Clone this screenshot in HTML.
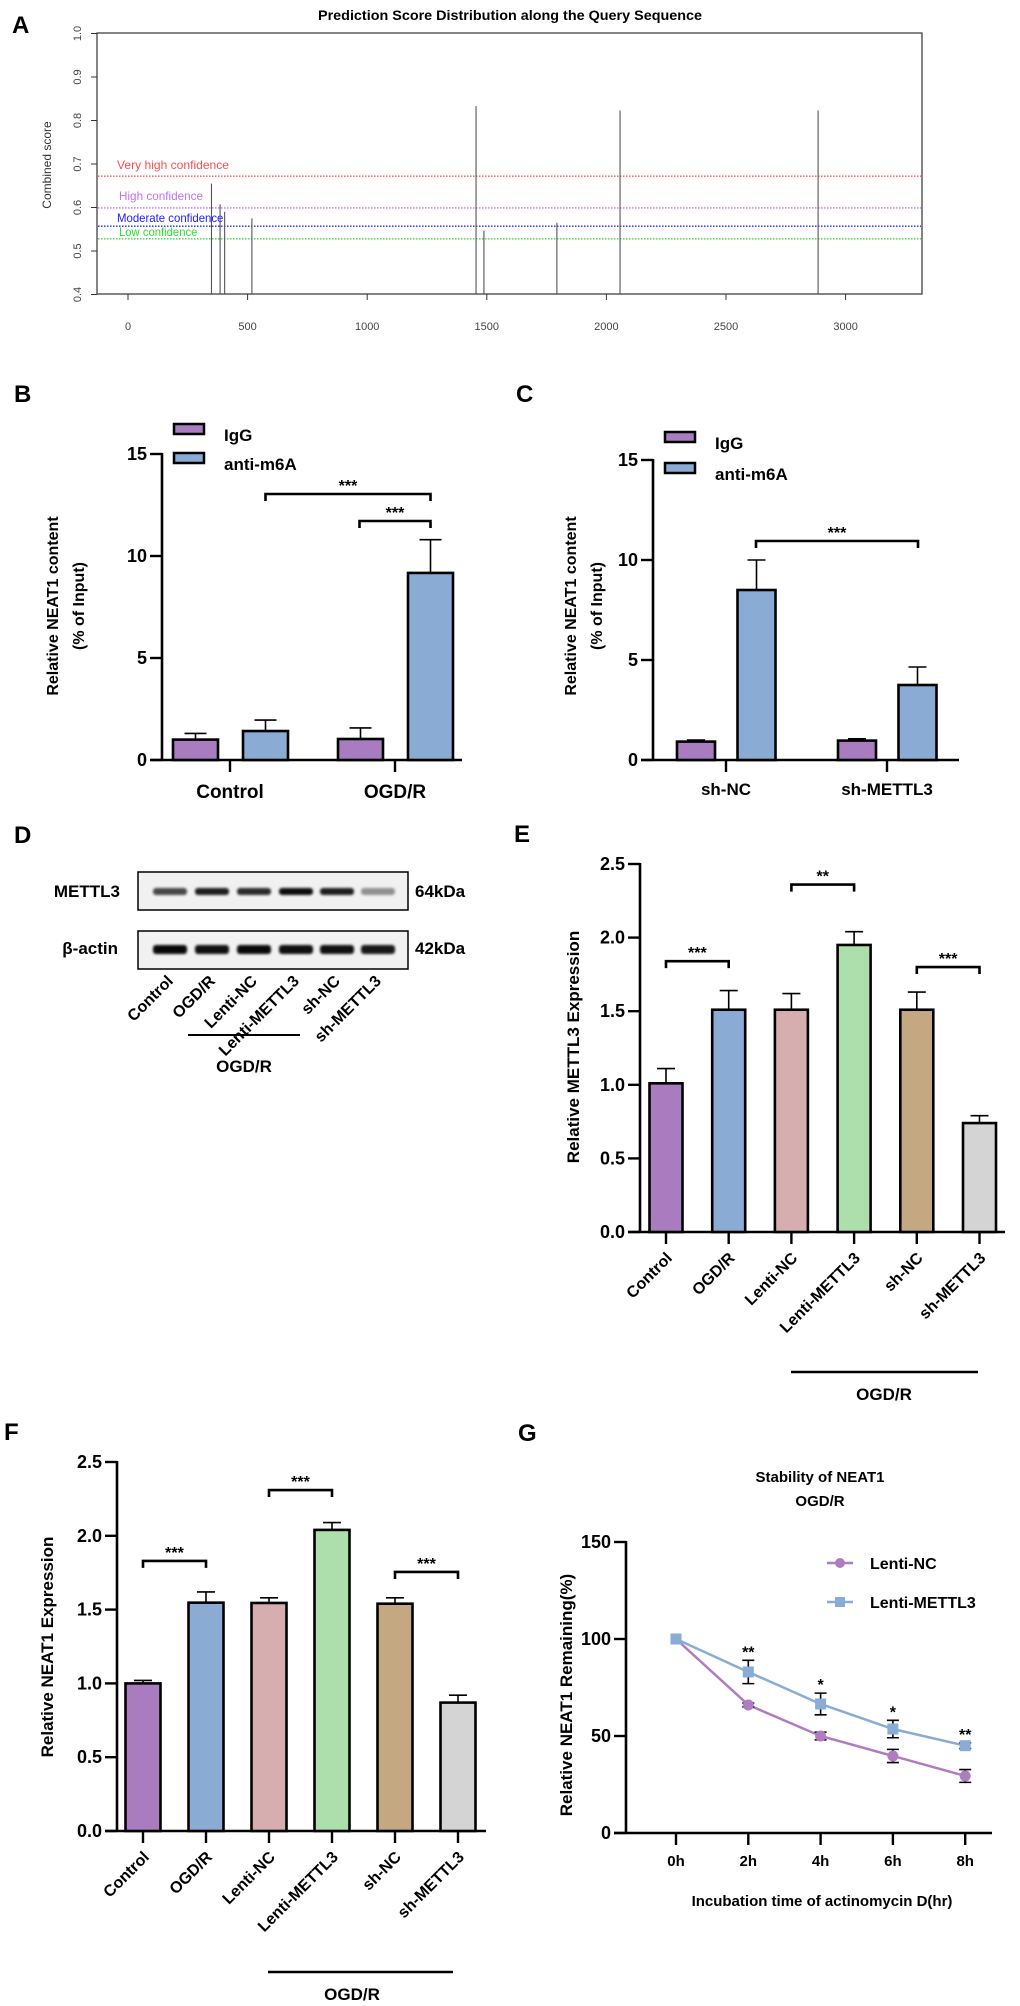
<!DOCTYPE html>
<html><head><meta charset="utf-8"><style>
html,body{margin:0;padding:0;background:#fff}
svg{display:block;font-family:"Liberation Sans",Arial,sans-serif}
.b{font-weight:bold}
</style></head><body>
<svg id="fig" width="1020" height="2006" viewBox="0 0 1020 2006" xmlns="http://www.w3.org/2000/svg">
<defs><filter id="blur" x="-20%" y="-50%" width="140%" height="200%"><feGaussianBlur stdDeviation="1.3"/></filter></defs>
<g id="pA">
<text x="12" y="33" class="b" font-size="24">A</text>
<text x="510" y="20" class="b" font-size="14" text-anchor="middle" textLength="384" lengthAdjust="spacingAndGlyphs">Prediction Score Distribution along the Query Sequence</text>
<rect x="97" y="33" width="825" height="261" fill="none" stroke="#333" stroke-width="1.2"/>
<text transform="translate(51,165) rotate(-90)" font-size="12" fill="#333" text-anchor="middle">Combined score</text>
</g>
<g id="pB">
<text x="14" y="402" class="b" font-size="24">B</text>
<text transform="translate(58,606) rotate(-90)" class="b" font-size="16" text-anchor="middle">Relative NEAT1 content</text>
<text transform="translate(84,606) rotate(-90)" class="b" font-size="16" text-anchor="middle">(% of Input)</text>
<rect x="174" y="424" width="30" height="10" fill="#a97cbf" stroke="#000" stroke-width="2.5"/>
<text x="224" y="441" class="b" font-size="17">IgG</text>
<rect x="174" y="453" width="30" height="10" fill="#8aabd3" stroke="#000" stroke-width="2.5"/>
<text x="224" y="470" class="b" font-size="17">anti-m6A</text>
</g>
<g id="pC">
<text x="516" y="402" class="b" font-size="24">C</text>
<text transform="translate(576,606) rotate(-90)" class="b" font-size="16" text-anchor="middle">Relative NEAT1 content</text>
<text transform="translate(602,606) rotate(-90)" class="b" font-size="16" text-anchor="middle">(% of Input)</text>
<rect x="665" y="432" width="30" height="10" fill="#a97cbf" stroke="#000" stroke-width="2.5"/>
<text x="715" y="449" class="b" font-size="17">IgG</text>
<rect x="665" y="463" width="30" height="10" fill="#8aabd3" stroke="#000" stroke-width="2.5"/>
<text x="715" y="480" class="b" font-size="17">anti-m6A</text>
</g>
<g id="pD">
<text x="14" y="843" class="b" font-size="24">D</text>
<text x="120" y="897" class="b" font-size="17" text-anchor="end">METTL3</text>
<text x="118" y="954" class="b" font-size="17" text-anchor="end">β-actin</text>
<rect x="138" y="872" width="270" height="38" fill="#f1f1f1" stroke="#000" stroke-width="1.5"/>
<rect x="138" y="931" width="270" height="38" fill="#f1f1f1" stroke="#000" stroke-width="1.5"/>
<text x="415" y="897" class="b" font-size="17">64kDa</text>
<text x="415" y="954" class="b" font-size="17">42kDa</text>
<line x1="188" y1="1035" x2="300" y2="1035" stroke="#000" stroke-width="2"/>
<text x="244" y="1072" class="b" font-size="17" text-anchor="middle">OGD/R</text>
</g>
<g id="pE">
<text x="514" y="842" class="b" font-size="24">E</text>
<text transform="translate(579,1047) rotate(-90)" class="b" font-size="17" text-anchor="middle">Relative METTL3 Expression</text>
<line x1="791" y1="1372" x2="978" y2="1372" stroke="#000" stroke-width="2.5"/>
<text x="884" y="1400" class="b" font-size="17" text-anchor="middle">OGD/R</text>
</g>
<g id="pF">
<text x="4" y="1440" class="b" font-size="24">F</text>
<text transform="translate(53,1647) rotate(-90)" class="b" font-size="17" text-anchor="middle">Relative NEAT1 Expression</text>
<line x1="268" y1="1972" x2="453" y2="1972" stroke="#000" stroke-width="2.5"/>
<text x="352" y="2000" class="b" font-size="17" text-anchor="middle">OGD/R</text>
</g>
<g id="pG">
<text x="518" y="1441" class="b" font-size="24">G</text>
<text x="820" y="1482" class="b" font-size="15" text-anchor="middle">Stability of NEAT1</text>
<text x="820" y="1506" class="b" font-size="15" text-anchor="middle">OGD/R</text>
<text transform="translate(572,1695) rotate(-90)" class="b" font-size="17" text-anchor="middle">Relative NEAT1 Remaining(%)</text>
<text x="822" y="1906" class="b" font-size="15" text-anchor="middle">Incubation time of actinomycin D(hr)</text>
<line x1="827" y1="1563" x2="853" y2="1563" stroke="#b07cc0" stroke-width="2.5"/>
<circle cx="840" cy="1563" r="5" fill="#b07cc0"/>
<text x="870" y="1569" class="b" font-size="16">Lenti-NC</text>
<line x1="827" y1="1602" x2="853" y2="1602" stroke="#8aabd3" stroke-width="2.5"/>
<rect x="835" y="1597" width="10" height="10" fill="#8aabd3"/>
<text x="870" y="1608" class="b" font-size="16">Lenti-METTL3</text>
</g>
</svg>
<script>
const siteCategories = [349, 385, 404, 518, 1455, 1488, 1793, 2057, 2885];
const siteScores = [0.655, 0.607, 0.59, 0.575, 0.833, 0.547, 0.565, 0.823, 0.823];
const thresholdValues = [0.672, 0.599, 0.557, 0.528];
const thresholdLabels = ['Very high confidence', 'High confidence', 'Moderate confidence', 'Low confidence'];
const aXTicks = [0, 500, 1000, 1500, 2000, 2500, 3000];
const aYTicks = [0.4, 0.5, 0.6, 0.7, 0.8, 0.9, 1.0];

const bCategories = ['Control', 'OGD/R'];
const bIgG = [1.0, 1.03];
const bIgGErr = [1.3, 1.57];
const bAnti = [1.42, 9.17];
const bAntiErr = [1.96, 10.8];

const cCategories = ['sh-NC', 'sh-METTL3'];
const cIgG = [0.92, 0.97];
const cIgGErr = [1.0, 1.06];
const cAnti = [8.5, 3.75];
const cAntiErr = [10.0, 4.65];
const bcYTicks = [0, 5, 10, 15];

const groupCategories = ['Control', 'OGD/R', 'Lenti-NC', 'Lenti-METTL3', 'sh-NC', 'sh-METTL3'];
const eValues = [1.01, 1.51, 1.51, 1.95, 1.51, 0.74];
const eErrTop = [1.11, 1.64, 1.62, 2.04, 1.63, 0.79];
const fValues = [1.0, 1.547, 1.545, 2.04, 1.54, 0.87];
const fErrTop = [1.02, 1.62, 1.58, 2.09, 1.58, 0.92];
const efYTicks = [0.0, 0.5, 1.0, 1.5, 2.0, 2.5];
const eBracketLevels = [1.84, 2.36, 1.80];
const eBracketStars = ['***', '**', '***'];
const fBracketLevels = [1.83, 2.31, 1.755];
const fBracketStars = ['***', '***', '***'];

const gTimes = ['0h', '2h', '4h', '6h', '8h'];
const gNC = [100, 66, 50, 39.7, 29.4];
const gNCErr = [0, 1, 2, 3.4, 3.3];
const gM3 = [100, 83, 66.5, 53.6, 45];
const gM3Err = [0, 6, 5.6, 4.5, 1.5];
const gStars = ['', '**', '*', '*', '**'];
const gYTicks = [0, 50, 100, 150];

const blotMettl3 = [0.7, 0.88, 0.82, 0.95, 0.88, 0.4];
const blotActin = [0.97, 0.93, 0.96, 0.94, 0.93, 0.9];

const COLORS6 = ['#a97cbf', '#8aabd3', '#d6aeb0', '#addfad', '#c4a882', '#d4d4d4'];
const NS = 'http://www.w3.org/2000/svg';
const svg = document.getElementById('fig');
function mk(tag, attrs, parent) {
  const e = document.createElementNS(NS, tag);
  for (const k in attrs) e.setAttribute(k, attrs[k]);
  (parent || svg).appendChild(e);
  return e;
}
function txt(s, attrs, parent) { const t = mk('text', attrs, parent); t.textContent = s; return t; }

const pA = document.getElementById('pA');
const xA = v => 128 + v * 119.6 / 500;
const yA = s => 294.5 - (s - 0.4) * 435;
const thColors = ['#ff4d4d', '#c070f0', '#2020ff', '#30e030'];
const thLabelX = [117, 119, 117, 119];
const thLabelOff = [-7, -8, -4, -3];
thresholdValues.forEach((v, i) => {
  const l = mk('line', {x1: 98, x2: 921, y1: yA(v), y2: yA(v), stroke: thColors[i], 'stroke-width': 1.3, 'stroke-dasharray': '1.5,1.5'}, pA);
  
  
  const t = txt(thresholdLabels[i], {x: thLabelX[i], y: yA(v) + thLabelOff[i], fill: thColors[i], 'font-size': 12, textLength: thresholdLabels[i].length * 5.6, lengthAdjust: 'spacingAndGlyphs'}, pA);
  
  
});
siteCategories.forEach((p, i) => {
  const l = mk('line', {x1: xA(p), x2: xA(p), y1: 294, y2: yA(siteScores[i]), stroke: '#555', 'stroke-width': 1.1}, pA);
  
  
});
aXTicks.forEach(v => {
  const l = mk('line', {x1: xA(v), x2: xA(v), y1: 294, y2: 300, stroke: '#333'}, pA);
  
  
  const t = txt(String(v), {x: xA(v), y: 330, 'font-size': 11, fill: '#444', 'text-anchor': 'middle'}, pA);
  
  
});
aYTicks.forEach(v => {
  const l = mk('line', {x1: 91, x2: 97, y1: yA(v), y2: yA(v), stroke: '#333'}, pA);
  
  
  const t = txt(v.toFixed(1), {transform: `translate(81,${yA(v)}) rotate(-90)`, 'font-size': 11, fill: '#444', 'text-anchor': 'middle'}, pA);
  
  
});

function errBar(g, x, yTop, yErr, cap) {
  const l = mk('line', {x1: x, x2: x, y1: yTop, y2: yErr, stroke: '#000', 'stroke-width': 1.6}, g);
  
  
  const c = mk('line', {x1: x - cap, x2: x + cap, y1: yErr, y2: yErr, stroke: '#000', 'stroke-width': 1.6}, g);
  
  
}
function bar(g, cx, w, y0, yv, fill) {
  const r = mk('rect', {x: cx - w / 2, y: yv, width: w, height: y0 - yv, fill: fill, stroke: '#000', 'stroke-width': 2.6}, g);
  
  
}
function yAxis(g, ax, yTop, yBot, ticks, yf, fmt, fs, tickLen) {
  const l = mk('line', {x1: ax, x2: ax, y1: yTop - 1, y2: yBot, stroke: '#000', 'stroke-width': 2.6}, g);
  
  
  ticks.forEach(v => {
    const t = mk('line', {x1: ax - tickLen, x2: ax, y1: yf(v), y2: yf(v), stroke: '#000', 'stroke-width': 2.4}, g);
    
    
    const s = txt(fmt(v), {x: ax - tickLen - 3, y: yf(v) + 6, 'font-size': fs, 'font-weight': 'bold', 'text-anchor': 'end'}, g);
    
    
  });
}
function xAxis(g, x1, x2, y, ticks) {
  const l = mk('line', {x1: x1, x2: x2, y1: y, y2: y, stroke: '#000', 'stroke-width': 2.6}, g);
  
  
  ticks.forEach(x => {
    const t = mk('line', {x1: x, x2: x, y1: y, y2: y + 12, stroke: '#000', 'stroke-width': 2.4}, g);
    
    
  });
}
function bracket(g, xa, xb, y, stars) {
  const p = mk('path', {d: `M${xa},${y + 7}V${y}H${xb}V${y + 7}`, fill: 'none', stroke: '#000', 'stroke-width': 2.6}, g);
  
  
  const t = txt(stars, {x: (xa + xb) / 2, y: y - 3, 'font-size': 16, 'font-weight': 'bold', 'text-anchor': 'middle'}, g);
  
  
}

const pB = document.getElementById('pB');
const yB = v => 760 - v * 20.4;
const bCenters = [230, 395];
yAxis(pB, 162, yB(15), 760, bcYTicks, yB, v => String(v), 18, 12);
xAxis(pB, 150, 462, 760, bCenters);
bCategories.forEach((c, i) => {
  const xi = bCenters[i] - 34.5, xa = bCenters[i] + 35.5;
  errBar(pB, xi, yB(bIgG[i]), yB(bIgGErr[i]), 11);
  bar(pB, xi, 45, 760, yB(bIgG[i]), '#a97cbf');
  errBar(pB, xa, yB(bAnti[i]), yB(bAntiErr[i]), 11);
  bar(pB, xa, 45, 760, yB(bAnti[i]), '#8aabd3');
  const t = txt(c, {x: bCenters[i], y: 798, 'font-size': 19, 'font-weight': 'bold', 'text-anchor': 'middle'}, pB);
  
  
});
bracket(pB, 265.5, 430.5, 494, '***');
bracket(pB, 359.5, 430.5, 521, '***');

const pC = document.getElementById('pC');
const yC = v => 760 - v * 20;
const cCenters = [726, 887];
yAxis(pC, 653, yC(15), 760, bcYTicks, yC, v => String(v), 18, 12);
xAxis(pC, 641, 959, 760, cCenters);
cCategories.forEach((c, i) => {
  const xi = cCenters[i] - 30, xa = cCenters[i] + 30.5;
  errBar(pC, xi, yC(cIgG[i]), yC(cIgGErr[i]), 9);
  bar(pC, xi, 38, 760, yC(cIgG[i]), '#a97cbf');
  errBar(pC, xa, yC(cAnti[i]), yC(cAntiErr[i]), 9);
  bar(pC, xa, 38, 760, yC(cAnti[i]), '#8aabd3');
  const t = txt(c, {x: cCenters[i], y: 795, 'font-size': 17, 'font-weight': 'bold', 'text-anchor': 'middle'}, pC);
  
  
});
bracket(pC, 756, 918, 541, '***');

const pD = document.getElementById('pD');
const lanes = [170, 212, 254, 296, 337, 378];
groupCategories.forEach((c, i) => {
  const b1 = mk('rect', {x: lanes[i] - 17, y: 888, width: 34, height: 7, rx: 3, fill: '#000', opacity: blotMettl3[i], filter: 'url(#blur)'}, pD);
  
  
  const b2 = mk('rect', {x: lanes[i] - 17, y: 945, width: 34, height: 9, rx: 3, fill: '#000', opacity: blotActin[i], filter: 'url(#blur)'}, pD);
  
  
  const t = txt(c, {transform: `translate(${lanes[i] + 4},982) rotate(-45)`, 'font-size': 16, 'font-weight': 'bold', 'text-anchor': 'end'}, pD);
  
  
});

function groupBars(g, axX, xEnd, x0, step, w, y0, scale, vals, errs, levels, stars, fs) {
  const yf = v => y0 - v * scale;
  const centers = vals.map((_, i) => x0 + step * i);
  yAxis(g, axX, yf(2.5), y0, efYTicks, yf, v => v.toFixed(1), fs, 12);
  xAxis(g, axX - 12, xEnd, y0, centers);
  vals.forEach((v, i) => {
    errBar(g, centers[i], yf(v), yf(errs[i]), 9);
    bar(g, centers[i], w, y0, yf(v), COLORS6[i]);
    const t = txt(groupCategories[i], {transform: `translate(${centers[i] + 7},${y0 + 27}) rotate(-45)`, 'font-size': 16, 'font-weight': 'bold', 'text-anchor': 'end'}, g);
    
    
  });
  levels.forEach((lv, k) => bracket(g, centers[2 * k], centers[2 * k + 1], yf(lv), stars[k]));
}
groupBars(document.getElementById('pE'), 640, 1005, 666, 62.7, 33, 1232, 147.2, eValues, eErrTop, eBracketLevels, eBracketStars, 18);
groupBars(document.getElementById('pF'), 117, 486, 143, 63, 35, 1831, 147.6, fValues, fErrTop, fBracketLevels, fBracketStars, 18);

const pG = document.getElementById('pG');
const yG = v => 1833 - v * 1.94;
const xG = i => 676 + 72.3 * i;
yAxis(pG, 626, yG(150), 1833, gYTicks, yG, v => String(v), 18, 12);
xAxis(pG, 614, 992, 1833, gTimes.map((_, i) => xG(i)));
gTimes.forEach((t, i) => {
  const s = txt(t, {x: xG(i), y: 1866, 'font-size': 15, 'font-weight': 'bold', 'text-anchor': 'middle'}, pG);
  
  
});
const ncLine = mk('polyline', {points: gNC.map((v, i) => xG(i) + ',' + yG(v)).join(' '), fill: 'none', stroke: '#b07cc0', 'stroke-width': 2.5}, pG);


const m3Line = mk('polyline', {points: gM3.map((v, i) => xG(i) + ',' + yG(v)).join(' '), fill: 'none', stroke: '#8aabd3', 'stroke-width': 2.5}, pG);


gTimes.forEach((t, i) => {
  if (gNCErr[i] > 0) {
    const e = mk('path', {d: `M${xG(i)},${yG(gNC[i] - gNCErr[i])}V${yG(gNC[i] + gNCErr[i])}M${xG(i) - 6},${yG(gNC[i] - gNCErr[i])}h12M${xG(i) - 6},${yG(gNC[i] + gNCErr[i])}h12`, stroke: '#000', 'stroke-width': 1.6, fill: 'none'}, pG);
    
    
  }
  if (gM3Err[i] > 0) {
    const e = mk('path', {d: `M${xG(i)},${yG(gM3[i] - gM3Err[i])}V${yG(gM3[i] + gM3Err[i])}M${xG(i) - 6},${yG(gM3[i] - gM3Err[i])}h12M${xG(i) - 6},${yG(gM3[i] + gM3Err[i])}h12`, stroke: '#000', 'stroke-width': 1.6, fill: 'none'}, pG);
    
    
  }
  const c = mk('circle', {cx: xG(i), cy: yG(gNC[i]), r: 5.5, fill: '#b07cc0'}, pG);
  
  
  const r = mk('rect', {x: xG(i) - 5.5, y: yG(gM3[i]) - 5.5, width: 11, height: 11, fill: '#8aabd3'}, pG);
  
  
  if (gStars[i]) {
    const s = txt(gStars[i], {x: xG(i), y: yG(gM3[i] + gM3Err[i]) - 3, 'font-size': 16, 'font-weight': 'bold', 'text-anchor': 'middle'}, pG);
    
    
  }
});
</script>
</body></html>
